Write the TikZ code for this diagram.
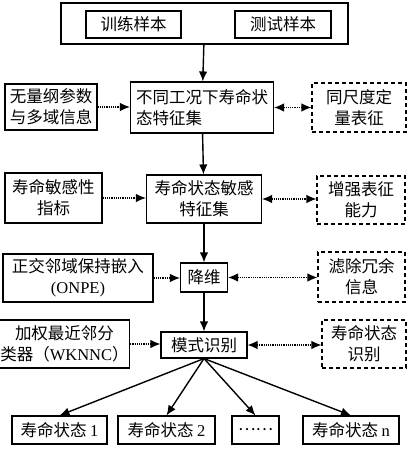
\documentclass[tikz,border=0pt]{standalone}
\usepackage{fontspec}
\setmainfont{Liberation Serif}
\newfontfamily\cjk{Noto Sans CJK SC}
\usetikzlibrary{arrows.meta,positioning}
\tikzset{every picture/.style={
  >={Latex[length=10pt,width=8.5pt]}   % Filled arrow heads.
  }
}

\begin{document}
\begin{tikzpicture}[x=1pt,y=1pt,
    box/.style={
      draw,
      line width=1.1pt,
      align=center,
      inner sep=1pt,
      font=\cjk\fontsize{16.5}{21}\selectfont
    },
    aside/.style={box,dash pattern=on 4pt off 3pt},
    flow/.style={->,line width=1.4pt},
    hint/.style={->,line width=1.2pt,densely dotted},
    link/.style={<->,line width=1.2pt,densely dotted}]

    \useasboundingbox (0,0) rectangle (409,450);

    % The samples on top.
    \node[box,minimum width=287pt,minimum height=41pt] (samples) at (204.5,426.5) {};
    \node[box,minimum width=95pt,minimum height=27pt] (train) at (133.5,425.5) {训练样本};
    \node[box,minimum width=96pt,minimum height=27pt] (test) at (283,425.5) {测试样本};

    % Main column.
    \node[box,align=left,minimum width=143pt,minimum height=51pt] (feat) at (202,342.5)
      {不同工况下寿命状\\态特征集};
    \node[box,minimum width=115pt,minimum height=48pt] (sens) at (204,251)
      {寿命状态敏感\\特征集};
    \node[box,minimum width=47pt,minimum height=29pt] (reduce) at (204,172.5) {降维};
    \node[box,minimum width=86pt,minimum height=26pt] (mode) at (204,105) {模式识别};

    % Inputs on the left.
    \node[box,minimum width=92pt,minimum height=46pt] (dimless) at (51,343)
      {无量纲参数\\与多域信息};
    \node[box,minimum width=97pt,minimum height=50pt] (index) at (53.5,252)
      {寿命敏感性\\指标};
    \node[box,minimum width=150pt,minimum height=48pt] (onpe) at (78,172)
      {正交邻域保持嵌入\\{\rmfamily (ONPE)}};
    \node[box,minimum width=115pt,minimum height=48pt] (wknnc) at (64.5,106)
      {加权最近邻分\\类器（{\rmfamily WKNNC}）};

    % Effects on the right.
    \node[aside,minimum width=94pt,minimum height=49pt] (scale) at (359,342.5)
      {同尺度定\\量表征};
    \node[aside,minimum width=88pt,minimum height=48pt] (enhance) at (361,250)
      {增强表征\\能力};
    \node[aside,minimum width=87pt,minimum height=50pt] (filter) at (361.5,173)
      {滤除冗余\\信息};
    \node[aside,minimum width=84pt,minimum height=48pt] (ident) at (364,106)
      {寿命状态\\识别};

    % Life states at the bottom.
    \node[box,minimum width=95pt,minimum height=28pt] (s1) at (59.5,20) {寿命状态 {\rmfamily 1}};
    \node[box,minimum width=97pt,minimum height=28pt] (s2) at (166.5,20) {寿命状态 {\rmfamily 2}};
    \node[box,minimum width=47pt,minimum height=28pt] (sdots) at (255.5,20) {……};
    \node[box,minimum width=96pt,minimum height=28pt] (sn) at (351,20) {寿命状态 {\rmfamily n}};

    % Main flow.
    \draw[flow] (samples) -- (feat);
    \draw[flow] (feat) -- (sens);
    \draw[flow] (sens) -- (reduce);
    \draw[flow] (reduce) -- (mode);
    \foreach \s in {s1,s2,sdots,sn}
      \draw[flow] (mode.south) -- (\s.north);

    % Side inputs and effects.
    \draw[hint] (dimless.east) -- (feat.west |- dimless.east);
    \draw[hint] (index.east) -- (sens.west |- index.east);
    \draw[hint] (onpe.east) -- (reduce.west |- onpe.east);
    \draw[hint] (wknnc.east) -- (mode.west |- wknnc.east);
    \draw[link] (feat.east) -- (scale.west |- feat.east);
    \draw[link] (sens.east) -- (enhance.west |- sens.east);
    \draw[link] (reduce.east) -- (filter.west |- reduce.east);
    \draw[link] (mode.east) -- (ident.west |- mode.east);
\end{tikzpicture}
\end{document}
